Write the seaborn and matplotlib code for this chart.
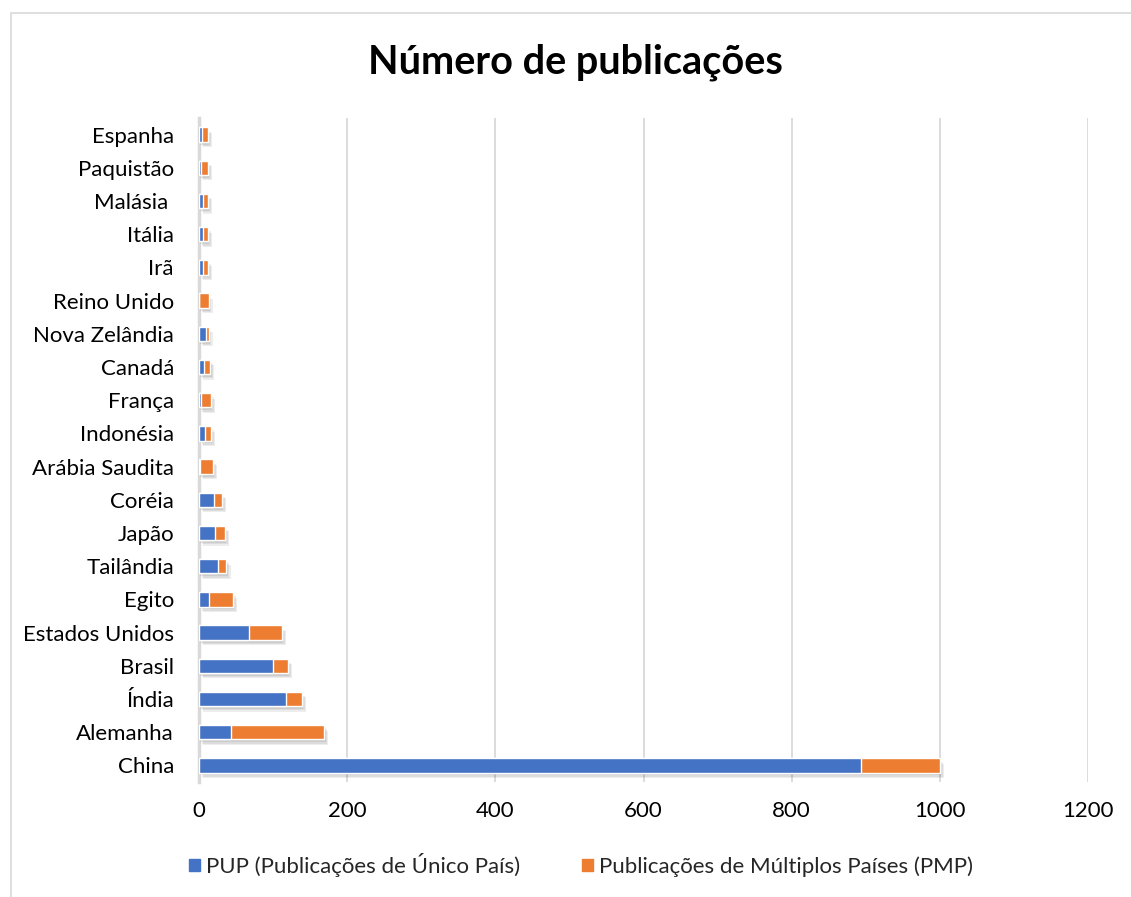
import matplotlib
matplotlib.use("Agg")
import matplotlib.pyplot as plt
import matplotlib.patheffects as pe
from matplotlib.patches import Rectangle
import pandas as pd
import seaborn as sns

# Countries listed top to bottom
countries = ["Espanha", "Paquistão", "Malásia ", "Itália", "Irã", "Reino Unido",
             "Nova Zelândia", "Canadá", "França", "Indonésia", "Arábia Saudita",
             "Coréia", "Japão", "Tailândia", "Egito", "Estados Unidos", "Brasil",
             "Índia", "Alemanha", "China"]
pup = [4, 3, 5, 5, 5, 0, 9, 7, 3, 8, 1, 20, 22, 26, 14, 68, 100, 117, 43, 894]
pmp = [8, 9, 7, 7, 7, 13, 4, 8, 13, 8, 18, 11, 13, 11, 32, 44, 20, 22, 126, 106]
x_ticks = [0, 200, 400, 600, 800, 1000, 1200]

label_pup = "PUP (Publicações de Único País)"
label_pmp = "Publicações de Múltiplos Países (PMP)"
title = "Número de publicações"

df = pd.DataFrame({"pais": countries, "pup": pup, "pmp": pmp})
df["total"] = df["pup"] + df["pmp"]

sns.set_theme(style="white")
plt.rcParams["font.family"] = ["Lato", "DejaVu Sans"]

BLUE = "#4472C4"
ORANGE = "#ED7D31"
GRID = "#D9D9D9"
TEXT = "#000000"
FS = 16

fig = plt.figure(figsize=(11.31, 8.97), dpi=100)
ax = fig.add_axes([199 / 1131, 1 - 782 / 897, (1088 - 199) / 1131, 664 / 897])

# Soft drop shadow built from a few faint offset copies
shadow = [pe.SimplePatchShadow(offset=(o, -o - 1), shadow_rgbFace="black", alpha=0.07)
          for o in (3, 2, 1)] + [pe.Normal()]

# Stacked bars: full total in orange, single-country share in blue over it
sns.barplot(data=df, y="pais", x="total", order=countries, color=ORANGE,
            width=0.43, saturation=1, ax=ax, orient="h", zorder=3)
for p in ax.patches:
    p.set_path_effects(shadow)
n_first = len(ax.patches)
sns.barplot(data=df, y="pais", x="pup", order=countries, color=BLUE,
            width=0.43, saturation=1, ax=ax, orient="h", zorder=4)
for p in ax.patches[n_first:]:
    p.set_zorder(4)

ax.set_xlim(0, 1200)
ax.set_ylim(len(countries) - 0.5, -0.5)
ax.set_xticks(x_ticks)
ax.set_xticklabels([str(t) for t in x_ticks])
ax.set_xlabel("")
ax.set_ylabel("")
ax.xaxis.grid(True, color=GRID, linewidth=1.3, zorder=0)
ax.set_axisbelow(True)
for s in ["top", "right", "bottom"]:
    ax.spines[s].set_visible(False)
ax.spines["left"].set_color(GRID)
ax.spines["left"].set_linewidth(2.5)
ax.tick_params(axis="x", length=0, pad=14, labelsize=FS, labelcolor=TEXT)
ax.tick_params(axis="y", length=0, pad=18, labelsize=FS, labelcolor=TEXT)

fig.text(575 / 1131, 1 - 62 / 897, title, ha="center", va="center",
         fontsize=28.5, fontweight="bold", color=TEXT)

handles = [Rectangle((0, 0), 1, 1, color=BLUE), Rectangle((0, 0), 1, 1, color=ORANGE)]
fig.legend(handles, [label_pup, label_pmp], loc="center",
           bbox_to_anchor=(581 / 1131, 1 - 865 / 897), ncol=2, frameon=False,
           fontsize=FS, handlelength=0.5, handleheight=0.5, handletextpad=0.25,
           columnspacing=2.8)

# Light chart frame
fig.patches.append(Rectangle((11 / 1131, -0.05), 1.1, 1 - 13 / 897 + 0.05,
                             transform=fig.transFigure, fill=False,
                             edgecolor=GRID, linewidth=1.2))

fig.savefig("out.png", dpi=100, facecolor="white")
